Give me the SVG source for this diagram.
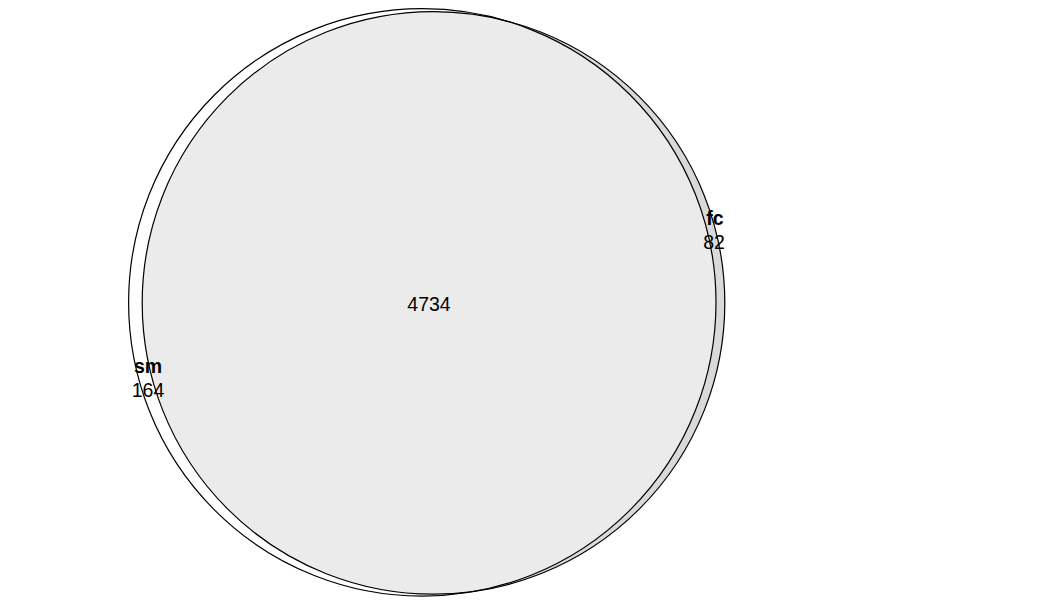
<svg xmlns="http://www.w3.org/2000/svg" width="1045" height="606" viewBox="0 0 1045 606">
<style>
.lbl{font-family:"Liberation Sans",Arial,sans-serif;font-size:19.5px;fill:#000;text-anchor:middle}
.b{font-weight:bold}
.edge{fill:none;stroke:#000;stroke-width:1.2}
</style>
<defs>
<clipPath id="clipSm"><circle cx="422.3" cy="302.4" r="293.7"/></clipPath>
</defs>
<rect width="1045" height="606" fill="#fff"/>
<g id="sm">
<circle cx="422.3" cy="302.4" r="293.7" fill="#fff"/>
</g>
<g id="fc">
<circle cx="433.5" cy="302.9" r="291.3" fill="#d9d9d9"/>
</g>
<g id="overlap">
<circle cx="433.5" cy="302.9" r="291.3" fill="#ebebeb" clip-path="url(#clipSm)"/>
</g>
<g id="outlines">
<circle class="edge" cx="422.3" cy="302.4" r="293.7"/>
<circle class="edge" cx="433.5" cy="302.9" r="291.3"/>
</g>
<g id="labels">
<text class="lbl b" x="715" y="225">fc</text>
<text class="lbl" x="714" y="249">82</text>
<text class="lbl b" x="148" y="373">sm</text>
<text class="lbl" x="148" y="397">164</text>
<text class="lbl" x="429" y="311">4734</text>
</g>
</svg>
